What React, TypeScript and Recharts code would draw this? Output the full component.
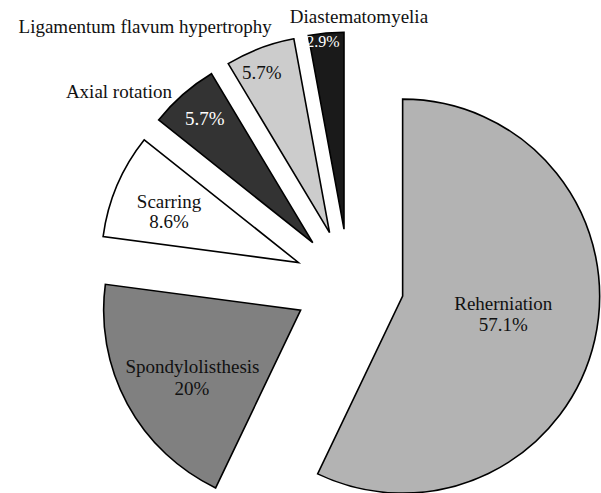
import { PieChart, Pie, Sector } from "recharts";

const CAUSES = [
    "Reherniation",
    "Spondylolisthesis",
    "Scarring",
    "Axial rotation",
    "Ligamentum flavum hypertrophy",
    "Diastematomyelia",
];
const SHARES = [57.1, 20, 8.6, 5.7, 5.7, 2.9];
const PCT_TEXT = ["57.1%", "20%", "8.6%", "5.7%", "5.7%", "2.9%"];

const data = CAUSES.map((name, i) => ({ name, value: SHARES[i] }));

const FILLS = ["#b3b3b3", "#808080", "#ffffff", "#333333", "#cccccc", "#1a1a1a"];
const RADIUS = 197;
const EXPLODE = 55;
const RAD = Math.PI / 180;
const FONT = "'Liberation Serif', 'Times New Roman', serif";

// label spots: r = fraction of radius along the bisector, then a small nudge
const LAYOUT = [
    { name: [0.524, 0, -9], pct: [0.524, 0, 12], anchor: "middle", pctFill: "#111", pctSize: 19 },
    { name: [0.662, 6.5, 0.7], pct: [0.662, 6, 22.7], anchor: "middle", pctFill: "#111", pctSize: 19 },
    { name: [0.692, -3.9, -1.2], pct: [0.692, -3.9, 18.8], anchor: "middle", pctFill: "#111", pctSize: 19 },
    { name: [1.023, -8, 7], pct: [0.809, -3, 2.3], anchor: "end", pctFill: "#fff", pctSize: 19 },
    { name: [1.05, 15.4, -6.2], pct: [0.85, -8.5, 3], anchor: "end", pctFill: "#111", pctSize: 19 },
    { name: [1.068, -35, 3.3], pct: [0.931, -4.3, 0.5], anchor: "start", pctFill: "#fff", pctSize: 16 },
];

const renderSlice = (props: any) => {
    const { cx, cy, midAngle, outerRadius, startAngle, endAngle, index } = props;
    const dx = Math.cos(-midAngle * RAD);
    const dy = Math.sin(-midAngle * RAD);
    const sx = cx + EXPLODE * dx;
    const sy = cy + EXPLODE * dy;
    const lay = LAYOUT[index];
    const at = (p: number[]) => ({
        x: sx + p[0] * outerRadius * dx + p[1],
        y: sy + p[0] * outerRadius * dy + p[2],
    });
    const n = at(lay.name);
    const p = at(lay.pct);
    return (
        <g>
            <Sector
                cx={sx}
                cy={sy}
                innerRadius={0}
                outerRadius={outerRadius}
                startAngle={startAngle}
                endAngle={endAngle}
                fill={FILLS[index]}
                stroke="#000"
                strokeWidth={1.6}
            />
            <text x={n.x} y={n.y} textAnchor={lay.anchor as any} fill="#111" fontSize={19} fontFamily={FONT}>
                {CAUSES[index]}
            </text>
            <text x={p.x} y={p.y} textAnchor="middle" fill={lay.pctFill} fontSize={lay.pctSize} fontFamily={FONT}>
                {PCT_TEXT[index]}
            </text>
        </g>
    );
};

const App = () => {
    return (
        <div style={{ position: "absolute", left: 0, top: 0, background: "#fff" }}>
            <PieChart width={601} height={493} margin={{ top: 0, right: 0, bottom: 0, left: 0 }}>
                <Pie
                    data={data}
                    dataKey="value"
                    nameKey="name"
                    cx={349}
                    cy={284}
                    outerRadius={RADIUS}
                    startAngle={90}
                    endAngle={-270}
                    fill="none"
                    stroke="none"
                    label={renderSlice}
                    labelLine={false}
                    isAnimationActive={false}
                />
            </PieChart>
        </div>
    );
};

export default App;
